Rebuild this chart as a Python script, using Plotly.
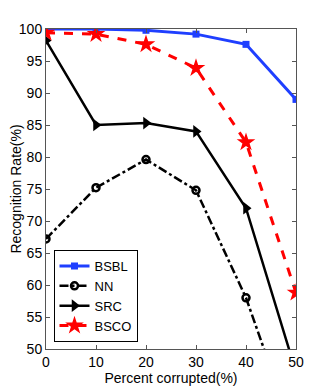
import plotly.graph_objects as go

x = [0, 10, 20, 30, 40, 50]
bsbl = [100, 100, 99.8, 99.2, 97.6, 89.0]
nn = [67.2, 75.2, 79.6, 74.8, 58.0, 35.8]
src = [98.2, 85.0, 85.3, 84.0, 72.0, 46.4]
bsco = [99.4, 99.2, 97.6, 93.9, 82.3, 58.8]

fig = go.Figure()

fig.add_trace(go.Scatter(
    x=x, y=bsbl, name="BSBL", mode="lines+markers",
    line=dict(color="#1f3fff", width=3),
    marker=dict(symbol="square", size=7, color="#1f3fff")
))
fig.add_trace(go.Scatter(
    x=x, y=nn, name="NN", mode="lines+markers",
    line=dict(color="black", width=2.5, dash="dashdot"),
    marker=dict(symbol="circle-open", size=7, color="black", line=dict(width=2.5))
))
fig.add_trace(go.Scatter(
    x=x, y=src, name="SRC", mode="lines+markers",
    line=dict(color="black", width=2.5),
    marker=dict(symbol="triangle-right", size=11, color="black")
))
fig.add_trace(go.Scatter(
    x=x, y=bsco, name="BSCO", mode="lines+markers",
    line=dict(color="red", width=3, dash="dash"),
    marker=dict(symbol="star", size=14, color="red")
))

axis_style = dict(
    showgrid=False,
    zeroline=False,
    showline=True,
    mirror="ticks",
    linecolor="#555555",
    linewidth=1,
    ticks="inside",
    ticklen=4,
    tickcolor="#555555",
    tickfont=dict(size=14, color="black"),
    automargin=False,
)

# page body adds an 8px offset, so the figure is sized to the visible area
fig.update_layout(
    width=319,
    height=384,
    plot_bgcolor="white",
    paper_bgcolor="white",
    font=dict(family="Liberation Sans, Arial, sans-serif", color="black"),
    margin=dict(l=38, r=31, t=21, b=43),
    xaxis=dict(
        range=[0, 50], tickvals=x,
        title=dict(text="Percent corrupted(%)", font=dict(size=14), standoff=1),
        **axis_style
    ),
    yaxis=dict(
        range=[50, 100], tickvals=[50, 55, 60, 65, 70, 75, 80, 85, 90, 95, 100],
        title=dict(text="Recognition Rate(%)", font=dict(size=14), standoff=4),
        **axis_style
    ),
    showlegend=True,
    legend=dict(
        x=0.03, y=0.022, xanchor="left", yanchor="bottom",
        bordercolor="black", borderwidth=1, bgcolor="white",
        font=dict(size=13), tracegroupgap=0, itemwidth=30
    ),
)

fig.write_html("out.html")
